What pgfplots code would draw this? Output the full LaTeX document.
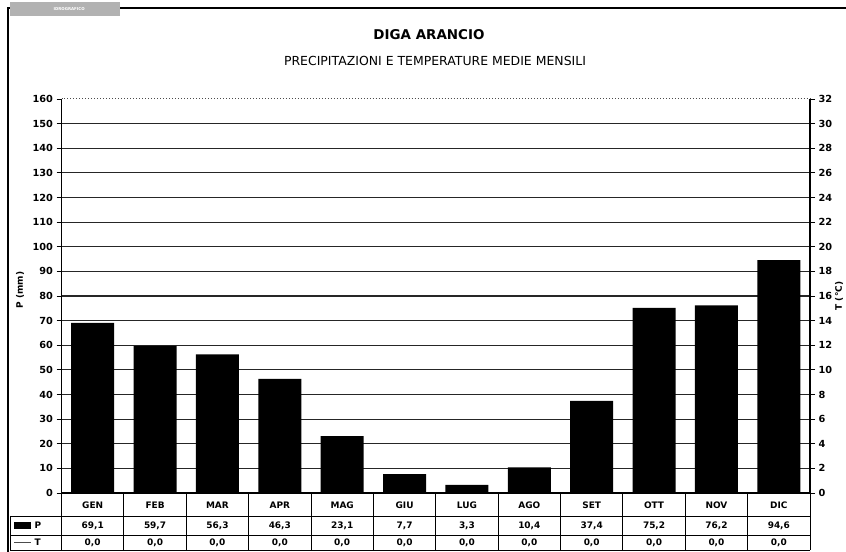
\documentclass[border=0pt]{standalone}
\usepackage{pgfplots}
\pgfplotsset{compat=1.18}
\usepackage{fontspec}
\setmainfont{DejaVu Sans}
\begin{document}
\begin{tikzpicture}[x=1bp,y=1bp]
\path[use as bounding box] (0,0) rectangle (846,552);
% frame
\draw[line width=1.2bp] (8,0) -- (8,544) -- (846,544);
\fill[gray!60] (10,536) rectangle (120,550);
\node[font=\fontsize{4}{4}\selectfont, text=white, anchor=west] at (50,543) {\textbf{IDROGRAFICO}};
% title
\node[font=\fontsize{13.5}{14}\selectfont\bfseries] at (429,517) {DIGA ARANCIO};
\node[font=\fontsize{12.5}{14}\selectfont] at (435,491) {PRECIPITAZIONI E TEMPERATURE MEDIE MENSILI};
\node[font=\fontsize{9}{10}\selectfont\bfseries, rotate=90] at (20,262) {P (mm)};
\node[font=\fontsize{9}{10}\selectfont\bfseries, rotate=90] at (839,256) {T (°C)};
\begin{axis}[
  at={(61.5bp,59bp)}, anchor=south west,
  scale only axis, width=748.5bp, height=394bp,
  xmin=0.5, xmax=12.5, ymin=0, ymax=160,
  xtick=\empty,
  ytick={10,20,...,150},
  extra y ticks={0,160},
  extra y tick style={grid=none},
  ymajorgrids,
  grid style={black!85, line width=1.2bp},
  axis line style={draw=none},
  ytick pos=left, tick align=outside,
  major tick length=5bp,
  tick style={black, line width=0.8bp},
  yticklabel style={font=\fontsize{9.8}{10}\selectfont\bfseries},
  /pgf/number format/assume math mode=true,
  ybar, bar width=43bp,
  clip=false,
]
\addplot[fill=black, draw=none] coordinates {
 (1,69.1) (2,59.7) (3,56.3) (4,46.3) (5,23.1) (6,7.7)
 (7,3.3) (8,10.4) (9,37.4) (10,75.2) (11,76.2) (12,94.6)};
\draw[black!70, dotted, line width=1bp] (axis cs:0.5,160) -- (axis cs:12.5,160);
\draw[black, line width=1.2bp] (axis cs:0.5,0) -- (axis cs:0.5,160);
\draw[black, line width=1.2bp] (axis cs:0.5,0) -- (axis cs:12.5,0);
\end{axis}
\begin{axis}[
  at={(61.5bp,59bp)}, anchor=south west,
  scale only axis, width=748.5bp, height=394bp,
  xmin=0.5, xmax=12.5, ymin=0, ymax=32,
  xtick=\empty,
  ytick={0,2,...,32},
  axis line style={draw=none},
  ytick pos=right, tick align=outside,
  major tick length=5bp,
  tick style={black, line width=0.8bp},
  yticklabel style={font=\fontsize{9.8}{10}\selectfont\bfseries},
  /pgf/number format/assume math mode=true,
  clip=false,
]
\addplot[draw=none, forget plot] coordinates {(1,0)};
\draw[black, line width=1.2bp] (axis cs:12.5,0) -- (axis cs:12.5,32);
\end{axis}
% data table
\foreach \k in {0,...,12} {
  \draw[black, line width=0.9bp] ({61.5+62.375*\k},59) -- ({61.5+62.375*\k},2);
}
\draw[black, line width=0.9bp] (10,36) -- (810,36);
\draw[black, line width=0.9bp] (10,17) -- (810,17);
\draw[black, line width=0.9bp] (10,2) -- (810,2);
\draw[black, line width=0.9bp] (10,36) -- (10,2);
\fill[black] (14,23) rectangle (31,30);
\node[font=\fontsize{9}{10}\selectfont\bfseries, anchor=west] at (31,26.5) {P};
\draw[black!70, line width=1bp] (14,9.5) -- (31,9.5);
\node[font=\fontsize{9}{10}\selectfont\bfseries, anchor=west] at (31,9.5) {T};
\foreach \m [count=\i from 0] in {GEN,FEB,MAR,APR,MAG,GIU,LUG,AGO,SET,OTT,NOV,DIC} {
  \node[font=\fontsize{9}{10}\selectfont\bfseries] at ({61.5+62.375*(\i+0.5)},47) {\m};
}
\foreach \v [count=\i from 0] in {69{,}1,59{,}7,56{,}3,46{,}3,23{,}1,7{,}7,3{,}3,10{,}4,37{,}4,75{,}2,76{,}2,94{,}6} {
  \node[font=\fontsize{9}{10}\selectfont\bfseries] at ({61.5+62.375*(\i+0.5)},26.5) {\v};
  \node[font=\fontsize{9}{10}\selectfont\bfseries] at ({61.5+62.375*(\i+0.5)},9.5) {0,0};
}
\end{tikzpicture}
\end{document}
